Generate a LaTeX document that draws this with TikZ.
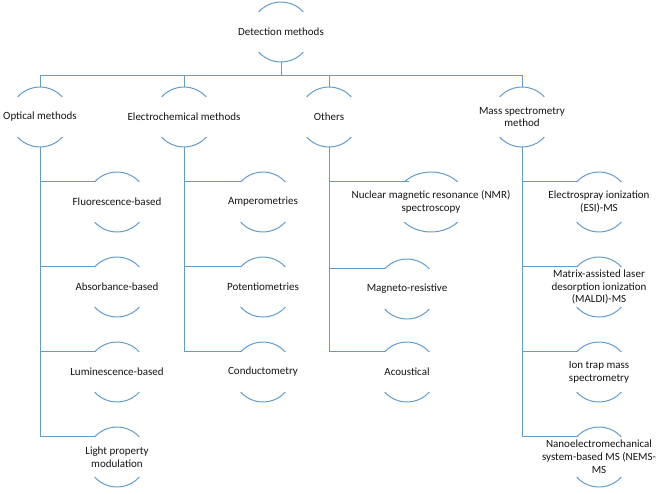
\documentclass[tikz,border=0pt]{standalone}
\usepackage{fontspec}
\setmainfont{Carlito}
\definecolor{lineblue}{RGB}{98,156,204}
\definecolor{textgrey}{RGB}{20,20,20}
% the two arcs round a method, #2 = x radius
\newcommand{\arcs}[2]{%
\draw[link] ([shift={(138:#2pt and 30pt)}]#1.center) arc[start angle=138, end angle=42, x radius=#2pt, y radius=30pt];
\draw[link] ([shift={(222:#2pt and 30pt)}]#1.center) arc[start angle=222, end angle=318, x radius=#2pt, y radius=30pt];}
% trunk from a group down to one of its methods
\newcommand{\branch}[2]{%
\draw[link] ([yshift=-30pt]#1.center) |- ([shift={(138:30pt)}]#2.center);}

\begin{document}
\begin{tikzpicture}[x=1pt, y=1pt,
  link/.style = {draw=lineblue, line width=1pt},
  main/.style = {align=center, inner sep=0pt, text=textgrey, font=\fontsize{11}{12.8}\selectfont}]
\useasboundingbox (0,0) rectangle (660,-493);
\node[main] (root) at (281,-32) {Detection methods};
\node[main] (optical) at (40,-117) {Optical methods};
\node[main] (electro) at (184,-117) {Electrochemical methods};
\node[main] (others) at (329,-117) {Others};
\node[main] (mass) at (522,-117) {Mass spectrometry\\method};
\node[main] (fluor) at (117,-202) {Fluorescence-based};
\node[main] (absorb) at (117,-287) {Absorbance-based};
\node[main] (lumin) at (117,-372) {Luminescence-based};
\node[main] (light) at (117,-457) {Light property\\modulation};
\node[main] (ampero) at (263,-202) {Amperometries};
\node[main] (potent) at (263,-287) {Potentiometries};
\node[main] (conduct) at (263,-372) {Conductometry};
\node[main] (nmr) at (431,-202) {Nuclear magnetic resonance (NMR)\\spectroscopy};
\node[main] (magneto) at (407,-289) {Magneto-resistive};
\node[main] (acoust) at (407,-372) {Acoustical};
\node[main] (esi) at (599,-202) {Electrospray ionization\\(ESI)-MS};
\node[main] (maldi) at (599,-287) {Matrix-assisted laser\\desorption ionization\\(MALDI)-MS};
\node[main] (iontrap) at (599,-372) {Ion trap mass\\spectrometry};
\node[main] (nems) at (599,-457) {Nanoelectromechanical\\system-based MS (NEMS-\\MS};
\foreach \n in {root,optical,electro,others,mass,fluor,absorb,lumin,light,ampero,potent,conduct,magneto,acoust,esi,maldi,iontrap,nems}
  {\arcs{\n}{30}}
\arcs{nmr}{36}
\foreach \n in {optical,electro,others,mass}
  \draw[link] ([yshift=-30pt]root.center) -- ++(0,-13) -| ([yshift=30pt]\n.center);
\foreach \n in {fluor,absorb,lumin,light}
  {\branch{optical}{\n}}
\foreach \n in {ampero,potent,conduct}
  {\branch{electro}{\n}}
\foreach \n in {nmr,magneto,acoust}
  {\branch{others}{\n}}
\foreach \n in {esi,maldi,iontrap,nems}
  {\branch{mass}{\n}}
\end{tikzpicture}
\end{document}
